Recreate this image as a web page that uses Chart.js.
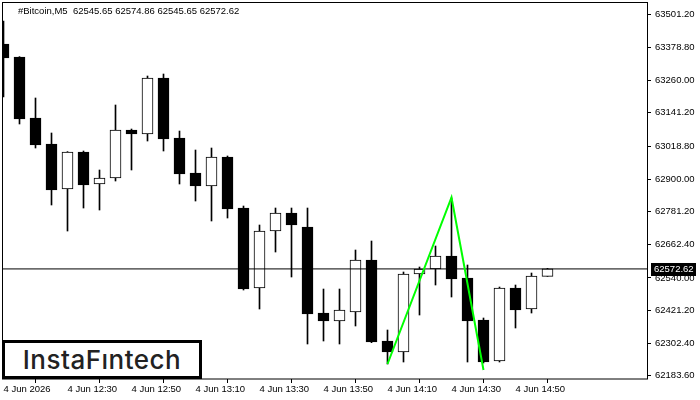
<!DOCTYPE html>
<html>
<head>
<meta charset="utf-8">
<script src="https://cdn.jsdelivr.net/npm/chart.js@4.4.0/dist/chart.umd.min.js"></script>
<style>
  html, body { margin: 0; padding: 0; background: #fff; }
  #wrap { position: relative; width: 700px; height: 400px; overflow: hidden; }
  #c { position: absolute; left: 0; top: 0; }
  #title { position: absolute; left: 18px; top: 5px; font: 9.5px "Liberation Sans", Arial, sans-serif; color: #000; white-space: pre; line-height: 12px; }
  #logo { position: absolute; left: 2px; top: 340px; width: 194px; height: 33px; border: 3px solid #000; background: #fff;
          font: 500 26px "Inter", "Roboto", sans-serif; color: #222; text-align: center; line-height: 33px; letter-spacing: 0.5px; }
</style>
</head>
<body>
<div id="wrap">
  <canvas id="c" width="700" height="400"></canvas>
  <div id="title">#Bitcoin,M5  62545.65 62574.86 62545.65 62572.62</div>
  <div id="logo">InstaFıntech</div>
</div>
<script>
// ---- data ----
const times = ['12:10','12:15','12:20','12:25','12:30','12:35','12:40','12:45','12:50','12:55',
               '13:00','13:05','13:10','13:15','13:20','13:25','13:30','13:35','13:40','13:45',
               '13:50','13:55','14:00','14:05','14:10','14:15','14:20','14:25','14:30','14:35',
               '14:40','14:45','14:50','14:55','15:00'];
const opens  = [63392.0,63344.6,63122.4,63027.7,62863.8,62998.0,62882.0,62903.8,63078.7,63064.1,
                63268.1,63049.5,62922.0,62874.7,62980.3,62794.5,62503.1,62710.7,62776.3,62725.3,
                62412.0,62382.9,62415.7,62605.1,62310.0,62269.9,62554.1,62572.3,62619.7,62539.5,
                62386.5,62237.2,62503.1,62426.6,62545.65];
const highs  = [63475.8,63346.0,63195.3,63067.8,63000.0,63002.2,62933.0,63169.8,63082.3,63275.4,
                63282.7,63075.0,63005.8,63013.1,62984.0,62801.8,62732.6,62794.5,62794.5,62794.5,
                62499.4,62499.4,62641.5,62674.3,62350.1,62561.4,62579.6,62656.1,62831.0,62586.9,
                62393.8,62506.7,62514.0,62557.7,62574.86];
const lows   = [63198.9,63100.6,63013.1,62805.5,62710.7,62794.5,62787.2,62892.9,62933.0,63038.6,
                63002.2,62882.0,62820.0,62747.2,62758.1,62495.8,62426.6,62634.2,62543.2,62299.1,
                62310.0,62299.1,62364.7,62304.0,62226.2,62233.5,62404.7,62514.0,62470.3,62233.5,
                62229.9,62233.5,62357.4,62412.0,62545.65];
const closes = [63341.0,63118.8,63024.0,62860.1,62998.6,62878.3,62903.8,63078.7,63064.1,63268.1,
                63045.9,62918.4,62874.7,62980.3,62790.9,62499.4,62710.7,62776.3,62732.6,62408.4,
                62382.9,62422.9,62605.1,62306.4,62269.9,62554.1,62572.3,62619.7,62535.9,62382.9,
                62233.5,62503.1,62422.9,62546.8,62572.62];
const currentPrice = 62572.62;
const patternIdx  = [24, 28, 30];
const patternVals = [62226.2, 62832.8, 62204.4];
const yTicks = [62183.60,62302.40,62421.20,62540.00,62662.40,62781.20,62900.00,63018.80,63141.20,63260.00,63378.80,63501.20];
const xTickIdx    = [0, 4, 8, 12, 16, 20, 24, 28, 32];
const xTickLabels = ['4 Jun 2026','4 Jun 12:30','4 Jun 12:50','4 Jun 13:10','4 Jun 13:30','4 Jun 13:50','4 Jun 14:10','4 Jun 14:30','4 Jun 14:50'];

// ---- view range ----
const xMin = -0.03125, xMax = 40.21875;
const yMin = 62171.6, yMax = 63541.4;

const bull = closes.map((c, i) => c >= opens[i]);
const bodyData = closes.map((c, i) => ({ x: i, y: [Math.min(opens[i], c), Math.max(opens[i], c)] }));
const wickData = closes.map((c, i) => ({ x: i, y: [lows[i], highs[i]] }));
const patternData = patternIdx.map((x, k) => ({ x: x, y: patternVals[k] }));

const axisFont = { family: '"Liberation Sans", Arial, sans-serif', size: 9.5 };

const framePlugin = {
  id: 'frame',
  afterDraw(chart) {
    const a = chart.chartArea, c = chart.ctx;
    c.save();
    c.strokeStyle = '#000'; c.lineWidth = 1;
    c.strokeRect(a.left - 0.5, a.top - 0.5, a.right - a.left + 1, a.bottom - a.top + 0.5);
    // current price tag
    const y = chart.scales.y.getPixelForValue(currentPrice);
    c.fillStyle = '#000';
    c.fillRect(a.right + 4, Math.round(y) - 6, 45, 13);
    c.fillStyle = '#fff';
    c.font = '9.5px "Liberation Sans", Arial, sans-serif';
    c.textBaseline = 'middle';
    c.fillText(currentPrice.toFixed(2), a.right + 7, Math.round(y) + 0.5);
    c.restore();
  }
};

new Chart(document.getElementById('c'), {
  type: 'bar',
  data: {
    datasets: [
      { type: 'line', data: patternData, borderColor: '#00ff00', borderWidth: 2, pointRadius: 0, order: 0 },
      { type: 'line', data: [{ x: xMin, y: currentPrice }, { x: xMax, y: currentPrice }], borderColor: '#000', borderWidth: 1, pointRadius: 0, order: 1 },
      { type: 'bar', data: bodyData, backgroundColor: bull.map(b => b ? '#fff' : '#000'), borderColor: '#000', borderWidth: 1,
        borderSkipped: false, barThickness: 11, grouped: false, order: 2 },
      { type: 'bar', data: wickData, backgroundColor: '#000', borderWidth: 0, barThickness: 1, grouped: false, order: 3 }
    ]
  },
  options: {
    responsive: false, animation: false, events: [],
    layout: { padding: { left: 3, top: 3, right: 0, bottom: 0 } },
    plugins: { legend: { display: false }, tooltip: { enabled: false } },
    scales: {
      x: {
        type: 'linear', min: xMin, max: xMax, offset: false,
        grid: { display: true, drawOnChartArea: false, drawTicks: true, tickLength: 4, color: '#000' },
        border: { display: false },
        ticks: { autoSkip: false, maxRotation: 0, minRotation: 0, align: 'start', padding: 1, color: '#000', font: axisFont,
                 callback: (v) => { const k = xTickIdx.indexOf(v); return k >= 0 ? xTickLabels[k] : ''; } },
        afterBuildTicks: (s) => { s.ticks = xTickIdx.map(v => ({ value: v })); },
        afterFit: (s) => { s.height = 21; s.paddingLeft = 0; s.paddingRight = 0; }
      },
      y: {
        position: 'right', min: yMin, max: yMax,
        grid: { display: true, drawOnChartArea: false, drawTicks: true, tickLength: 4, color: '#000' },
        border: { display: false },
        ticks: { padding: 4, color: '#000', font: axisFont, callback: (v) => Number(v).toFixed(2) },
        afterBuildTicks: (s) => { s.ticks = yTicks.map(v => ({ value: v })); },
        afterFit: (s) => { s.width = 53; s.paddingTop = 0; s.paddingBottom = 0; }
      }
    }
  },
  plugins: [framePlugin]
});
</script>
</body>
</html>
